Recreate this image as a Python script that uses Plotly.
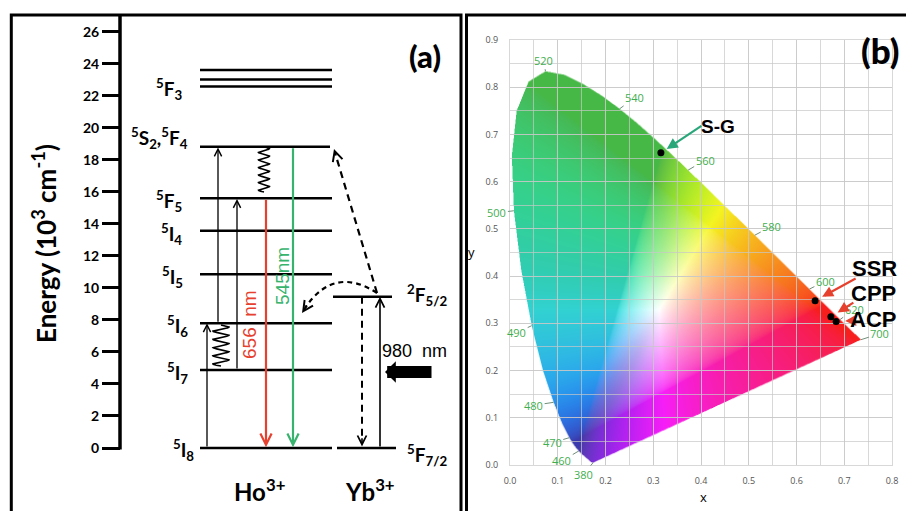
import numpy as np
import plotly.graph_objects as go
import zlib, struct, base64

W, H = 906, 511

# ---------------- data: panel (a) ----------------
energy_ticks = list(range(0, 27, 2))
ho_names = ["<sup>5</sup>I<sub>8</sub>", "<sup>5</sup>I<sub>7</sub>", "<sup>5</sup>I<sub>6</sub>",
            "<sup>5</sup>I<sub>5</sub>", "<sup>5</sup>I<sub>4</sub>", "<sup>5</sup>F<sub>5</sub>",
            "<sup>5</sup>S<sub>2</sub>,<sup>5</sup>F<sub>4</sub>", "<sup>5</sup>F<sub>3</sub>"]
ho_energy = [0.0, 4.87, 7.79, 10.85, 13.57, 15.60, 18.82, 22.58]
ho_f3_sublevels = [22.58, 23.02, 23.61]
yb_names = ["<sup>5</sup>F<sub>7/2</sub>", "<sup>2</sup>F<sub>5/2</sub>"]
yb_energy = [0.0, 9.45]
emission_labels = ["656&nbsp; nm", "545nm"]
pump_label = "980  nm"

# ---------------- data: panel (b) ----------------
locus_wl = list(range(380, 705, 5))
locus_x = [0.1741, 0.1740, 0.1738, 0.1736, 0.1733, 0.1730, 0.1726, 0.1721, 0.1714, 0.1703, 0.1689,
           0.1669, 0.1644, 0.1611, 0.1566, 0.1510, 0.1440, 0.1355, 0.1241, 0.1096, 0.0913, 0.0687,
           0.0454, 0.0235, 0.0082, 0.0039, 0.0139, 0.0389, 0.0743, 0.1142, 0.1547, 0.1929, 0.2296,
           0.2658, 0.3016, 0.3373, 0.3731, 0.4087, 0.4441, 0.4788, 0.5125, 0.5448, 0.5752, 0.6029,
           0.6270, 0.6482, 0.6658, 0.6801, 0.6915, 0.7006, 0.7079, 0.7140, 0.7190, 0.7230, 0.7260,
           0.7283, 0.7300, 0.7311, 0.7320, 0.7327, 0.7334, 0.7340, 0.7344, 0.7346, 0.7347]
locus_y = [0.0050, 0.0050, 0.0049, 0.0049, 0.0048, 0.0048, 0.0048, 0.0048, 0.0051, 0.0058, 0.0069,
           0.0086, 0.0109, 0.0138, 0.0177, 0.0227, 0.0297, 0.0399, 0.0578, 0.0868, 0.1327, 0.2007,
           0.2950, 0.4127, 0.5384, 0.6548, 0.7502, 0.8120, 0.8338, 0.8262, 0.8059, 0.7816, 0.7543,
           0.7243, 0.6923, 0.6589, 0.6245, 0.5896, 0.5547, 0.5202, 0.4866, 0.4544, 0.4242, 0.3965,
           0.3725, 0.3514, 0.3340, 0.3197, 0.3083, 0.2993, 0.2920, 0.2859, 0.2809, 0.2770, 0.2740,
           0.2717, 0.2700, 0.2689, 0.2680, 0.2673, 0.2666, 0.2660, 0.2656, 0.2654, 0.2653]
label_wl = [380, 460, 470, 480, 490, 500, 520, 540, 560, 580, 600, 620, 700]
sample_names = ["S-G", "SSR", "CPP", "ACP"]
sample_x = [0.316, 0.639, 0.672, 0.683]
sample_y = [0.661, 0.348, 0.314, 0.304]
axis_ticks = [round(0.1 * i, 1) for i in range(10)]

# ---------------- helpers ----------------
PX_PER_E = 16.01
E0_PX = 448.0
def E(p):  # pixel row -> energy units of the left axis (layout helper)
    return (E0_PX - p) / PX_PER_E

RED = "#e6412e"
GREEN = "#37b36d"

def gauss(h, c, s):
    d = (h - c + 180) % 360 - 180
    return np.exp(-(d / s) ** 2)

def chromaticity_png(lx, ly, xmax, ymax, w, h, ss=2):
    lx = np.asarray(lx); ly = np.asarray(ly)
    gx = (np.arange(w * ss) + 0.5) / (w * ss) * xmax
    gy = ymax - (np.arange(h * ss) + 0.5) / (h * ss) * ymax
    X, Y = np.meshgrid(gx, gy)
    inside = np.zeros(X.shape, bool)
    n = len(lx)
    for i in range(n):
        x1, y1, x2, y2 = lx[i], ly[i], lx[(i + 1) % n], ly[(i + 1) % n]
        cond = (y1 > Y) != (y2 > Y)
        xint = (x2 - x1) * (Y - y1) / (y2 - y1 + 1e-12) + x1
        inside ^= cond & (X < xint)
    yy = np.maximum(Y, 1e-4)
    Xc = X / yy; Zc = (1 - X - Y) / yy
    r = 3.2406 * Xc - 1.5372 - 0.4986 * Zc
    g = -0.9689 * Xc + 1.8758 + 0.0415 * Zc
    b = 0.0557 * Xc - 0.2040 + 1.0570 * Zc
    rgb = np.clip(np.stack([r, g, b], -1), 0, None)
    rgb /= np.maximum(rgb.max(-1, keepdims=True), 1e-9)
    rgb = np.where(rgb <= 0.0031308, 12.92 * rgb, 1.055 * rgb ** (1 / 2.4) - 0.055)
    # illustration-style tone: mute pure greens, cyans and deep blues (scaled by saturation)
    R, G, B = rgb[..., 0], rgb[..., 1], rgb[..., 2]
    hue = np.degrees(np.arctan2(np.sqrt(3) * (G - B), 2 * R - G - B)) % 360
    mx = rgb.max(-1); mn = rgb.min(-1)
    S = (mx - mn) / np.maximum(mx, 1e-9)
    ds = 0.12 + 0.26 * gauss(hue, 120, 35) + 0.22 * gauss(hue, 245, 25) + 0.1 * gauss(hue, 180, 25)
    dv = 0.03 + 0.25 * gauss(hue, 120, 35) + 0.3 * gauss(hue, 245, 25) + 0.14 * gauss(hue, 175, 22)
    w8 = np.clip(S, 0, 1) ** 1.5
    V2 = mx * (1 - dv * w8)
    S2 = S * (1 - ds * w8)
    mn2 = V2 * (1 - S2)
    t = (rgb - mn[..., None]) / np.maximum(mx - mn, 1e-9)[..., None]
    rgb = mn2[..., None] + t * (V2 - mn2)[..., None]
    a = inside.astype(float)
    rgb = rgb * a[..., None]
    rgb = rgb.reshape(h, ss, w, ss, 3).sum((1, 3))
    a = a.reshape(h, ss, w, ss).sum((1, 3))
    rgb = rgb / np.maximum(a, 1e-9)[..., None]
    a = a / (ss * ss)
    img = np.concatenate([np.clip(rgb, 0, 1), a[..., None]], -1)
    img = (img * 255 + 0.5).astype(np.uint8)
    raw = b"".join(b"\x00" + img[i].tobytes() for i in range(h))
    def chunk(t, d):
        return struct.pack(">I", len(d)) + t + d + struct.pack(">I", zlib.crc32(t + d) & 0xffffffff)
    png = (b"\x89PNG\r\n\x1a\n" + chunk(b"IHDR", struct.pack(">IIBBBBB", w, h, 8, 6, 0, 0, 0))
           + chunk(b"IDAT", zlib.compress(raw, 9)) + chunk(b"IEND", b""))
    return "data:image/png;base64," + base64.b64encode(png).decode()

fig = go.Figure()
shapes = []
ann = []

# ---------------- panel (a) ----------------
HO_X0, HO_X1 = 200, 332
for name, e in zip(ho_names, ho_energy):
    if name.endswith("F<sub>3</sub>"):
        for s in ho_f3_sublevels:
            shapes.append(dict(type="line", xref="x", yref="y", x0=HO_X0, x1=HO_X1, y0=s, y1=s,
                               line=dict(color="black", width=2.6)))
    else:
        shapes.append(dict(type="line", xref="x", yref="y", x0=HO_X0, x1=HO_X1 if e != ho_energy[6] else 330,
                           y0=e, y1=e, line=dict(color="black", width=2.4)))
label_right = [196, 190, 190, 185, 184, 184, 190, 184]
label_shift = [-2, -3, -3, -3, -3, -3, 9, -3]
for name, e, xr, ys in zip(ho_names, ho_energy, label_right, label_shift):
    ann.append(dict(xref="x", yref="y", x=xr, y=e, text=name, showarrow=False, xanchor="right",
                    yanchor="middle", yshift=ys, font=dict(family="Lato", size=19, color="black", weight="bold")))

yb_spans = [(337, 396), (333, 392)]
for (x0, x1), e in zip(yb_spans, yb_energy):
    shapes.append(dict(type="line", xref="x", yref="y", x0=x0, x1=x1, y0=e, y1=e,
                       line=dict(color="black", width=2.4)))
for name, e, ys in zip(yb_names, yb_energy, [-7, 2]):
    ann.append(dict(xref="x", yref="y", x=405, y=e, text=name, showarrow=False, xanchor="left",
                    yanchor="middle", yshift=ys, font=dict(family="Lato", size=19, color="black", weight="bold")))

# energy axis
shapes.append(dict(type="line", xref="x", yref="y", x0=120, x1=120, y0=E(14), y1=E(449.5),
                   line=dict(color="black", width=3.5)))
ann.append(dict(xref="x", yref="y", x=44, y=E(244), text="Energy (10<sup>3</sup> cm<sup>-1</sup>)",
                showarrow=False, textangle=-90, font=dict(family="Lato", size=26, color="black", weight="bold")))

def arrow(xh, yh, xt, yt, color="black", width=1.3, head=5, size=1.1, xref="x", yref="y"):
    ann.append(dict(xref=xref, yref=yref, axref=xref, ayref=yref, x=xh, y=yh, ax=xt, ay=yt, text="",
                    showarrow=True, arrowhead=head, arrowsize=size, arrowwidth=width, arrowcolor=color,
                    standoff=0, startstandoff=0))

e_I8, e_I7, e_I6, e_I5, e_I4, e_F5, e_S2, e_F3 = ho_energy
arrow(207, e_I6, 207, e_I8)
arrow(218, e_S2 - 0.05, 218, e_I6)
arrow(237, e_F5 - 0.05, 237, e_I7)
arrow(266, e_I8 + 0.05, 266, e_F5, color=RED, width=2.2, size=1.0)
arrow(293, e_I8 + 0.05, 293, e_S2, color=GREEN, width=2.2, size=1.0)
arrow(380, yb_energy[1], 380, yb_energy[0], width=1.6)

# wavy non-radiative relaxations
for xc, amp, ea, eb, cyc in [(264, 5.5, e_S2, E(192), 6), (221, 8, E(325), E(366), 5)]:
    t = np.linspace(0, 1, 300)
    fig.add_trace(go.Scatter(x=xc + amp * np.sin(2 * np.pi * cyc * t), y=ea + (eb - ea) * t, mode="lines",
                             line=dict(color="black", width=1.6), hoverinfo="skip", showlegend=False,
                             xaxis="x", yaxis="y"))

# dashed energy-transfer arrows
DASH = "7px,5px"
shapes.append(dict(type="line", xref="x", yref="y", x0=362, x1=362, y0=yb_energy[1], y1=0.5,
                   line=dict(color="black", width=2, dash=DASH)))
arrow(362, 0.1, 362, 0.7, width=1.6)
shapes.append(dict(type="line", xref="x", yref="y", x0=377, x1=336, y0=E(293), y1=E(156),
                   line=dict(color="black", width=2.2, dash=DASH)))
arrow(334, E(149), 336.5, E(157), width=1.8)
p0, pc, p2 = (377, 293), (334, 265), (302, 313)
shapes.append(dict(type="path", xref="x", yref="y",
                   path=f"M {p0[0]},{E(p0[1])} Q {pc[0]},{E(pc[1])} {p2[0]+3},{E(p2[1]-5)}",
                   line=dict(color="black", width=2.2, dash="5px,4px")))
arrow(p2[0], E(p2[1]), p2[0] + 0.18 * (pc[0] - p2[0]), E(p2[1] + 0.18 * (pc[1] - p2[1])), width=1.8)

# pump arrow
arrow(385, E(372), 433, E(372), width=12, head=1, size=0.3)
ann.append(dict(xref="x", yref="y", x=414, y=E(351), text=pump_label, showarrow=False,
                font=dict(family="Liberation Sans", size=18, color="black")))
ann.append(dict(xref="x", yref="y", x=249, y=E(325), text=emission_labels[0], showarrow=False, textangle=-90,
                font=dict(family="Liberation Sans", size=19, color=RED)))
ann.append(dict(xref="x", yref="y", x=282, y=E(276), text=emission_labels[1], showarrow=False, textangle=-90,
                font=dict(family="Liberation Sans", size=19, color=GREEN)))
ann.append(dict(xref="x", yref="y", x=259, y=E(490), text="Ho<sup>3+</sup>", showarrow=False,
                font=dict(family="Lato", size=24, color="black", weight="bold")))
ann.append(dict(xref="x", yref="y", x=370, y=E(490), text="Yb<sup>3+</sup>", showarrow=False,
                font=dict(family="Lato", size=24, color="black", weight="bold")))
ann.append(dict(xref="x", yref="y", x=425, y=E(56), text="(a)", showarrow=False,
                font=dict(family="Lato", size=31, color="black", weight=900)))

# ---------------- panel (b) ----------------
IMG_XMAX, IMG_YMAX = 0.75, 0.85
src = chromaticity_png(locus_x, locus_y, IMG_XMAX, IMG_YMAX, 360, 408)
fig.add_layout_image(dict(source=src, xref="x2", yref="y2", x=0, y=IMG_YMAX, sizex=IMG_XMAX, sizey=IMG_YMAX,
                          xanchor="left", yanchor="top", sizing="stretch", layer="below"))

wl_offsets = {380: (-10, 12), 460: (-17, 10), 470: (-17, 5), 480: (-20, 3), 490: (-15, 7), 500: (-17, 2),
              520: (-2, -11), 540: (15, -11), 560: (17, -10), 580: (17, -9), 600: (16, -8),
              620: (14, -10), 700: (19, -6)}
for wl in label_wl:
    i = locus_wl.index(wl)
    dx, dy = wl_offsets[wl]
    ann.append(dict(xref="x2", yref="y2", x=locus_x[i], y=locus_y[i], text=str(wl), showarrow=True,
                    ax=dx, ay=dy, arrowhead=0, arrowwidth=1, arrowcolor="#6f8f7a", standoff=0,
                    font=dict(family="Open Sans", size=11, color="#3fae4f")))

fig.add_trace(go.Scatter(x=sample_x, y=sample_y, mode="markers", marker=dict(color="black", size=7),
                         xaxis="x2", yaxis="y2", showlegend=False, hoverinfo="skip"))
# label arrows: (tail offset px, standoff, colour, text centre offset px, font size)
callouts = [((42, -28), 7, "#2aa77a", (57, -26), 19),
            ((42, -23), 8, RED, (59, -32), 22),
            ((24, -15), 8, RED, (43, -23), 22),
            ((20, -1), 9, RED, (37, -2), 22)]
for nm, sx, sy, (tail, so, col, toff, fsz) in zip(sample_names, sample_x, sample_y, callouts):
    ann.append(dict(xref="x2", yref="y2", x=sx, y=sy, ax=tail[0], ay=tail[1], text="", showarrow=True,
                    arrowhead=2, arrowsize=1.0, arrowwidth=2.2, arrowcolor=col, standoff=so))
    ann.append(dict(xref="x2", yref="y2", x=sx, y=sy, xshift=toff[0], yshift=-toff[1], text=nm,
                    showarrow=False, font=dict(family="Liberation Sans Narrow, Liberation Sans", size=fsz,
                                               color="black", weight="bold")))

for txt, px, py, fnt in [("(b)", 880, 50, dict(family="Lato", size=35, color="black", weight=900)),
                         ("y", 471, 252, dict(family="Open Sans", size=13, color="black")),
                         ("x", 703, 497, dict(family="Open Sans", size=13, color="black"))]:
    ann.append(dict(xref="paper", yref="paper", x=px / W, y=1 - py / H, text=txt, showarrow=False,
                    xanchor="center", yanchor="middle", font=fnt))

# panel borders
for x0, x1 in [(11.3 / W, 461 / W), (466.5 / W, 1.05)]:
    shapes.append(dict(type="rect", xref="paper", yref="paper", x0=x0, x1=x1, y0=-0.05, y1=1 - 15 / H,
                       line=dict(color="black", width=3), fillcolor="rgba(0,0,0,0)"))

GRID = "rgba(200,200,200,0.7)"
fig.update_layout(
    width=W, height=H, margin=dict(l=0, r=0, t=0, b=0, autoexpand=False),
    paper_bgcolor="white", plot_bgcolor="rgba(0,0,0,0)", showlegend=False,
    xaxis=dict(domain=[0, 462 / W], range=[0, 462], visible=False, fixedrange=True, automargin=False),
    yaxis=dict(domain=[0, 1], range=[E(H), E(0)], anchor="free", position=120 / W, side="left",
               tickvals=energy_ticks, ticks="outside", ticklen=18, tickwidth=3, tickcolor="black",
               showline=False, showgrid=False, zeroline=False, automargin=False,
               tickfont=dict(family="Lato", size=14, color="black", weight="bold")),
    xaxis2=dict(domain=[510 / W, 892 / W], range=[0, 0.8], anchor="y2", tickvals=axis_ticks[:9],
                tickformat=".1f", showgrid=True, gridcolor=GRID, gridwidth=1, zeroline=False, automargin=False,
                minor=dict(dtick=0.05, showgrid=True, gridcolor=GRID, gridwidth=1),
                showline=True, mirror=True, linecolor=GRID, linewidth=1, ticks="", ticklabelstandoff=7,
                tickfont=dict(family="Open Sans", size=9, color="#555")),
    yaxis2=dict(domain=[(H - 465) / H, (H - 40) / H], range=[0, 0.9], anchor="x2", tickvals=axis_ticks,
                tickformat=".1f", showgrid=True, gridcolor=GRID, gridwidth=1, zeroline=False, automargin=False,
                minor=dict(dtick=0.05, showgrid=True, gridcolor=GRID, gridwidth=1),
                showline=True, mirror=True, linecolor=GRID, linewidth=1, ticks="", ticklabelstandoff=9,
                tickfont=dict(family="Open Sans", size=9, color="#555")),
    shapes=shapes, annotations=ann,
)
fig.write_html("out.html", config={"displayModeBar": False},
               post_script="document.body.style.margin='0px';document.body.style.overflow='hidden';")
